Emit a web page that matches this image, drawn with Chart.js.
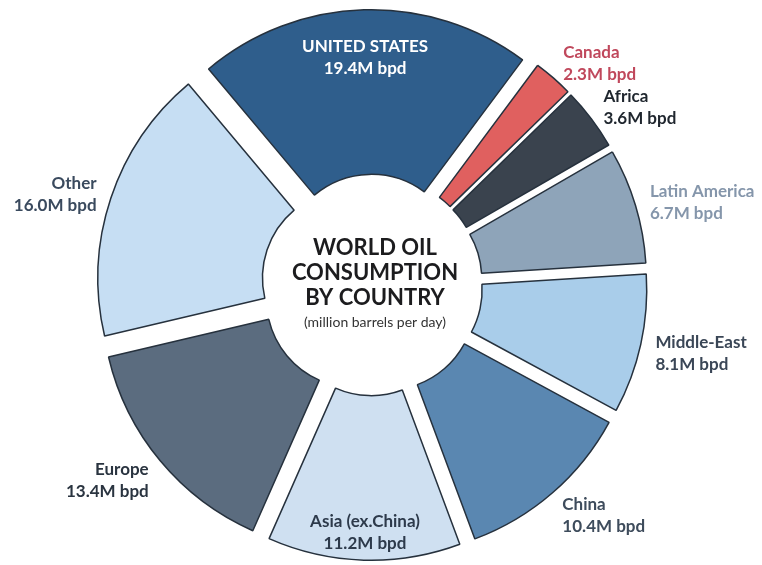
<!DOCTYPE html>
<html>
<head>
<meta charset="utf-8">
<title>World Oil Consumption</title>
<script src="https://cdn.jsdelivr.net/npm/chart.js@4.4.0/dist/chart.umd.min.js"></script>
<style>
  html, body { margin: 0; padding: 0; background: #fff; }
  #wrap { width: 762px; height: 565px; position: relative; }
</style>
</head>
<body>
<div id="wrap"><canvas id="oilChart"></canvas></div>
<script>
const regions = ['UNITED STATES', 'Canada', 'Africa', 'Latin America', 'Middle-East', 'China', 'Asia (ex.China)', 'Europe', 'Other'];
const consumption = [19.4, 2.3, 3.6, 6.7, 8.1, 10.4, 11.2, 13.4, 16.0];
const unit = 'M bpd';
const titleLines = ['WORLD OIL', 'CONSUMPTION', 'BY COUNTRY'];
const subtitle = '(million barrels per day)';

const sliceColors = ['#2f5e8c', '#e0605f', '#3a434e', '#8ea4b9', '#a9cdea', '#5a87b1', '#cfe0f1', '#5b6c7f', '#c6def3'];
const labelColors = ['#ffffff', '#c0485c', '#1f262e', '#8596ab', '#3a4656', '#3e4c5c', '#2d3a4b', '#2a3440', '#3a4a5e'];
const insideLabels = ['UNITED STATES', 'Asia (ex.China)'];

const EXPLODE = 22;

// doughnut whose slices are pushed out from the centre along their mid angle
class ExplodedDoughnut extends Chart.DoughnutController {
  draw() {
    const ctx = this.chart.ctx;
    this._cachedMeta.data.forEach(arc => {
      const mid = (arc.startAngle + arc.endAngle) / 2;
      ctx.save();
      ctx.translate(Math.cos(mid) * EXPLODE, Math.sin(mid) * EXPLODE);
      arc.draw(ctx);
      ctx.restore();
    });
  }
}
ExplodedDoughnut.id = 'explodedDoughnut';
ExplodedDoughnut.defaults = Chart.DoughnutController.defaults;
ExplodedDoughnut.overrides = Chart.DoughnutController.overrides;
Chart.register(ExplodedDoughnut);

const sliceLabels = {
  id: 'sliceLabels',
  afterDatasetsDraw(chart) {
    const ctx = chart.ctx;
    const arcs = chart.getDatasetMeta(0).data;
    ctx.save();
    ctx.textBaseline = 'middle';
    ctx.font = 'bold 17px Lato';
    arcs.forEach((arc, i) => {
      const mid = (arc.startAngle + arc.endAngle) / 2;
      const outer = arc.outerRadius + EXPLODE;
      let r, dy, align;
      if (insideLabels.includes(regions[i])) {
        r = outer - 38; dy = 10; align = 'center';
      } else {
        r = outer + 15; dy = 4 + 10 * Math.sin(mid); align = Math.cos(mid) >= 0 ? 'left' : 'right';
      }
      const px = arc.x + Math.cos(mid) * r;
      const py = arc.y + Math.sin(mid) * r + dy;
      ctx.textAlign = align;
      ctx.fillStyle = labelColors[i];
      ctx.fillText(regions[i], px, py - 11);
      ctx.fillText(consumption[i].toFixed(1) + unit, px, py + 11);
    });

    // title in the hole
    const cx = arcs[0].x + 3;
    const cy = arcs[0].y;
    ctx.textAlign = 'center';
    ctx.fillStyle = '#1c1c1e';
    ctx.font = 'bold 22px Lato';
    titleLines.forEach((t, k) => ctx.fillText(t, cx, cy - 37 + k * 25));
    ctx.font = '14px Lato';
    ctx.fillStyle = '#333';
    ctx.fillText(subtitle, cx, cy + 37);
    ctx.restore();
  }
};

new Chart(document.getElementById('oilChart'), {
  type: 'explodedDoughnut',
  data: {
    labels: regions,
    datasets: [{
      data: consumption,
      backgroundColor: sliceColors,
      borderColor: '#26313d',
      borderWidth: 1.5
    }]
  },
  options: {
    responsive: true,
    maintainAspectRatio: false,
    animation: false,
    events: [],
    rotation: -40,
    cutout: '35%',
    layout: { padding: { top: 31, bottom: 26, left: 72, right: 90 } },
    plugins: {
      legend: { display: false },
      tooltip: { enabled: false }
    }
  },
  plugins: [sliceLabels]
});
</script>
</body>
</html>
